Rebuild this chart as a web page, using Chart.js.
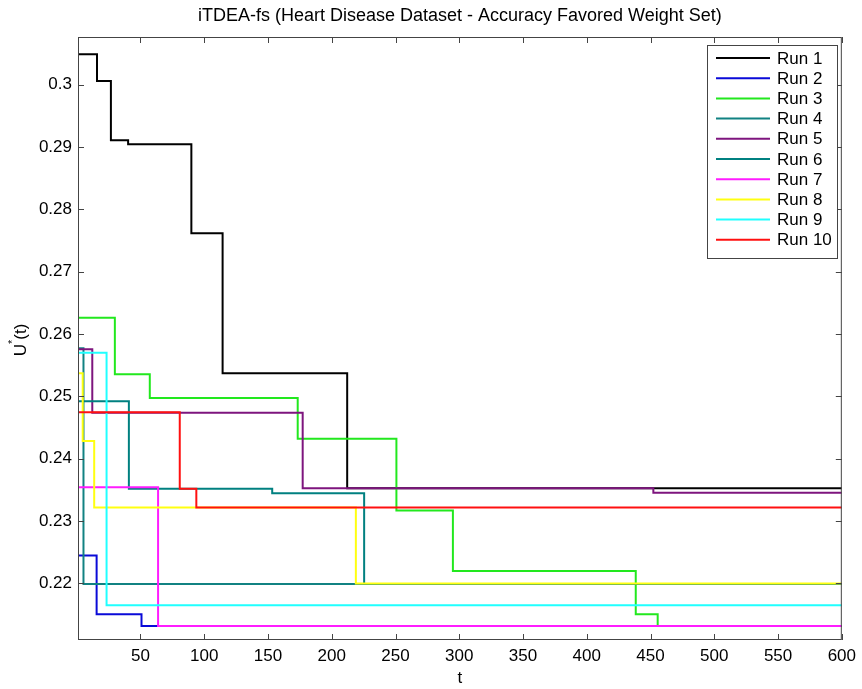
<!DOCTYPE html>
<html>
<head>
<meta charset="utf-8">
<title>iTDEA-fs</title>
<script src="https://cdn.jsdelivr.net/npm/chart.js@4/dist/chart.umd.min.js"></script>
<style>
    html, body { margin: 0; padding: 0; background: #ffffff; }
</style>
</head>
<body>
<canvas id="chart" width="862" height="689"></canvas>
<script>
// 圖表資料 (每次運行的變化點)
const runNames = ['Run 1', 'Run 2', 'Run 3', 'Run 4', 'Run 5', 'Run 6', 'Run 7', 'Run 8', 'Run 9', 'Run 10'];
const runColors = ['#000000', '#0a0ad8', '#22e81e', '#118282', '#7e157e', '#008080', '#ff1cff', '#ffff10', '#20ffff', '#ff1010'];

const run1T = [1, 15.9, 26.8, 40.3, 89.9, 114.4, 212.1, 600];
const run1U = [0.30488, 0.30059, 0.29108, 0.29044, 0.27616, 0.25370, 0.23525, 0.23525];
const run2T = [1, 15.6, 50.8, 600];
const run2U = [0.22444, 0.21502, 0.21315, 0.21315];
const run3T = [1, 29.9, 57.3, 173.3, 250.7, 295.0, 438.4, 455.6, 600];
const run3U = [0.26262, 0.25354, 0.24974, 0.24321, 0.23166, 0.22198, 0.21503, 0.21315, 0.21315];
const run4T = [1, 5.3, 600];
const run4U = [0.25771, 0.21989, 0.21989];
const run5T = [1, 12.2, 177.2, 452.2, 600];
const run5U = [0.25755, 0.24738, 0.23525, 0.23454, 0.23454];
const run6T = [1, 40.9, 153.3, 225.4, 600];
const run6U = [0.24921, 0.23518, 0.23444, 0.21989, 0.21989];
const run7T = [1, 63.8, 600];
const run7U = [0.23541, 0.21315, 0.21315];
const run8T = [1, 4.7, 13.7, 218.9, 600];
const run8U = [0.25370, 0.24284, 0.23214, 0.21995, 0.21995];
const run9T = [1, 23.4, 600];
const run9U = [0.25700, 0.21648, 0.21648];
const run10T = [1, 80.8, 93.8, 600];
const run10U = [0.24744, 0.23518, 0.23214, 0.23214];

// 刻度
const xTicks = [50, 100, 150, 200, 250, 300, 350, 400, 450, 500, 550, 600];
const yTicks = [0.22, 0.23, 0.24, 0.25, 0.26, 0.27, 0.28, 0.29, 0.3];

const chartTitle = 'iTDEA-fs (Heart Disease Dataset - Accuracy Favored Weight Set)';
const FONT = '"Liberation Sans", Arial, Helvetica, sans-serif';
const AXIS_COLOR = '#444444';

document.addEventListener('DOMContentLoaded', function() {
    initializeChart();
});

/**
 * 把 t 和 U 陣列組成點
 */
function toPoints(ts, us) {
    return ts.map(function(t, i) { return { x: t, y: us[i] }; });
}

/**
 * MATLAB 風格的外框、內向刻度、標題、軸標籤與圖例
 */
const matlabFrame = {
    id: 'matlabFrame',
    afterDraw: function(chart) {
        const ctx = chart.ctx;
        const a = chart.chartArea;
        const xs = chart.scales.x;
        const ys = chart.scales.y;
        ctx.save();

        // 外框
        ctx.strokeStyle = AXIS_COLOR;
        ctx.lineWidth = 1;
        ctx.strokeRect(a.left + 0.5, a.top + 0.5, a.right - a.left - 1, a.bottom - a.top - 1);

        // 內向刻度
        ctx.beginPath();
        xTicks.forEach(function(v) {
            const px = Math.round(xs.getPixelForValue(v)) + 0.5;
            ctx.moveTo(px, a.bottom); ctx.lineTo(px, a.bottom - 6);
            ctx.moveTo(px, a.top); ctx.lineTo(px, a.top + 6);
        });
        yTicks.forEach(function(v) {
            const py = Math.round(ys.getPixelForValue(v)) + 0.5;
            ctx.moveTo(a.left, py); ctx.lineTo(a.left + 6, py);
            ctx.moveTo(a.right, py); ctx.lineTo(a.right - 6, py);
        });
        ctx.stroke();

        // 標題
        ctx.fillStyle = '#000';
        ctx.font = '18px ' + FONT;
        ctx.textAlign = 'center';
        ctx.textBaseline = 'middle';
        ctx.fillText(chartTitle, (a.left + a.right) / 2, 16);

        // x 軸標籤
        ctx.font = '17px ' + FONT;
        ctx.fillText('t', (a.left + a.right) / 2, 678);

        // y 軸標籤 U*(t)
        ctx.save();
        ctx.translate(21, 340);
        ctx.rotate(-Math.PI / 2);
        ctx.textAlign = 'left';
        ctx.textBaseline = 'middle';
        ctx.font = '17px ' + FONT;
        const wU = ctx.measureText('U').width;
        const wP = ctx.measureText('(t)').width;
        ctx.font = '11px ' + FONT;
        const wS = ctx.measureText('*').width;
        const x0 = -(wU + wS + wP) / 2;
        ctx.font = '17px ' + FONT;
        ctx.fillText('U', x0, 0);
        ctx.font = '11px ' + FONT;
        ctx.fillText('*', x0 + wU, -8);
        ctx.font = '17px ' + FONT;
        ctx.fillText('(t)', x0 + wU + wS, 0);
        ctx.restore();

        // 圖例
        const lx = 707, ly = 45, lw = 130, lh = 213;
        ctx.fillStyle = '#ffffff';
        ctx.fillRect(lx, ly, lw, lh);
        ctx.strokeStyle = AXIS_COLOR;
        ctx.lineWidth = 1;
        ctx.strokeRect(lx + 0.5, ly + 0.5, lw, lh);
        ctx.font = '17px ' + FONT;
        ctx.textAlign = 'left';
        ctx.textBaseline = 'middle';
        chart.data.datasets.forEach(function(ds, i) {
            const y = 58 + i * 20.2;
            ctx.strokeStyle = ds.borderColor;
            ctx.lineWidth = 2;
            ctx.beginPath();
            ctx.moveTo(716, y);
            ctx.lineTo(770, y);
            ctx.stroke();
            ctx.fillStyle = '#000';
            ctx.fillText(ds.label, 777, y + 1);
        });

        ctx.restore();
    }
};

/**
 * 初始化階梯折線圖
 */
function initializeChart() {
    const ctx = document.getElementById('chart').getContext('2d');

    const allT = [run1T, run2T, run3T, run4T, run5T, run6T, run7T, run8T, run9T, run10T];
    const allU = [run1U, run2U, run3U, run4U, run5U, run6U, run7U, run8U, run9U, run10U];

    const datasets = runNames.map(function(name, i) {
        return {
            label: name,
            data: toPoints(allT[i], allU[i]),
            borderColor: runColors[i],
            backgroundColor: runColors[i],
            borderWidth: 2,
            stepped: true,
            pointRadius: 0,
            fill: false,
            order: runNames.length - i
        };
    });

    const tickFont = { family: FONT, size: 17 };

    new Chart(ctx, {
        type: 'line',
        data: { datasets: datasets },
        options: {
            responsive: false,
            animation: false,
            layout: { padding: { top: 37, right: 18, bottom: 0, left: 0 } },
            plugins: {
                legend: { display: false },
                title: { display: false },
                tooltip: { enabled: false }
            },
            scales: {
                x: {
                    type: 'linear',
                    min: 1,
                    max: 600,
                    grid: { display: false, drawTicks: false },
                    border: { display: false },
                    ticks: { font: tickFont, color: '#000', padding: 6, maxRotation: 0, autoSkip: false },
                    afterBuildTicks: function(scale) {
                        scale.ticks = xTicks.map(function(v) { return { value: v }; });
                    },
                    afterFit: function(scale) { scale.height = 49; }
                },
                y: {
                    type: 'linear',
                    min: 0.2109,
                    max: 0.30765,
                    grid: { display: false, drawTicks: false },
                    border: { display: false },
                    ticks: {
                        font: tickFont,
                        color: '#000',
                        padding: 6,
                        callback: function(v) { return String(Math.round(v * 100) / 100); }
                    },
                    afterBuildTicks: function(scale) {
                        scale.ticks = yTicks.map(function(v) { return { value: v }; });
                    },
                    afterFit: function(scale) { scale.width = 78; }
                }
            }
        },
        plugins: [matlabFrame]
    });
}
</script>
</body>
</html>
